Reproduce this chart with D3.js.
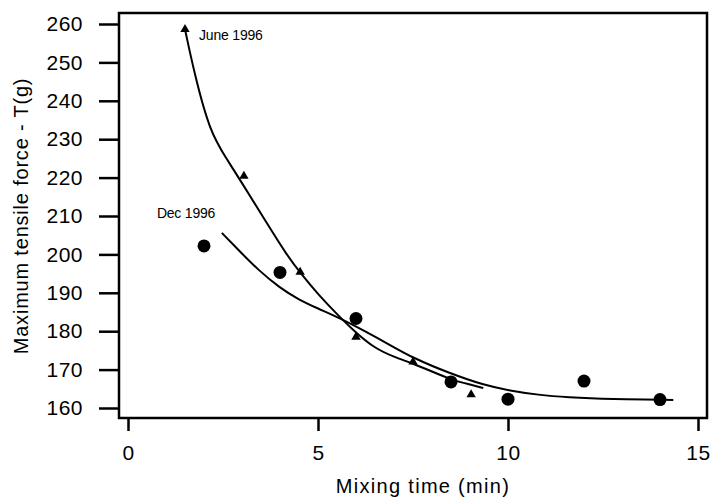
<!DOCTYPE html>
<html>
<head>
<meta charset="utf-8">
<script src="https://cdn.jsdelivr.net/npm/d3@7"></script>
<style>
  body { margin: 0; background: #fff; }
  svg text { font-family: "Liberation Sans", Arial, sans-serif; fill: #000; }
</style>
</head>
<body>
<div id="chart"></div>
<script>
// Dec 1996 measurements (circles)
var decTimes  = [2, 4, 6, 8.5, 10, 12, 14];
var decForces = [202.2, 195.3, 183.3, 166.8, 162.3, 167, 162.2];

// June 1996 measurements (triangles)
var juneTimes  = [1.5, 3.05, 4.53, 6, 7.5, 9.03];
var juneForces = [258.6, 220.4, 195.4, 178.5, 172, 163.5];

// fitted curves
var decCurveX = [2.47, 3.0, 3.4, 4.0, 4.5, 5.0, 5.6, 6.2, 6.9, 7.5, 8.5, 9.35, 10.05, 10.8, 11.55, 12.7, 14.35];
var decCurveY = [205.6, 200.2, 196.2, 191.2, 188.2, 185.9, 183.3, 180.2, 176.4, 173.0, 168.9, 166.0, 164.5, 163.4, 162.8, 162.3, 162.1];
var juneCurveX = [1.5, 1.75, 2.15, 2.6, 3.0, 3.6, 4.2, 4.55, 5.0, 5.6, 6.0, 6.5, 7.0, 7.5, 8.0, 8.5, 9.0, 9.35];
var juneCurveY = [258.6, 247, 232, 224.8, 218.6, 209, 199.5, 195.0, 189.6, 183.4, 179.6, 175.5, 173.3, 171.6, 169.5, 167.4, 166.1, 165.2];

// labels
var seriesNames = ["June 1996", "Dec 1996"];
var labelX = [1.87, 0.76];
var labelY = [255.8, 209.5];

var xTicks = [0, 5, 10, 15];
var yTicks = [160, 170, 180, 190, 200, 210, 220, 230, 240, 250, 260];
var xTitle = "Mixing time (min)";
var yTitle = "Maximum tensile force - T(g)";

var width = 712, height = 499;
var frame = {left: 119, top: 13, right: 707, bottom: 418};

var svg = d3.select("#chart").append("svg")
    .attr("width", width)
    .attr("height", height);

var x = d3.scaleLinear().domain([0, 15]).range([128, 698]);
var y = d3.scaleLinear().domain([160, 260]).range([408, 24]);

// axes
var yAxis = svg.append("g")
    .attr("transform", "translate(" + frame.left + ",0)")
    .call(d3.axisLeft(y).tickValues(yTicks).tickSize(20).tickPadding(16).tickFormat(d3.format("d")));
var xAxis = svg.append("g")
    .attr("transform", "translate(0," + frame.bottom + ")")
    .call(d3.axisBottom(x).tickValues(xTicks).tickSize(13).tickPadding(14).tickFormat(d3.format("d")));
svg.selectAll(".domain").remove();
svg.selectAll(".tick line").attr("stroke", "#000").attr("stroke-width", 2.5);
svg.selectAll(".tick text")
    .attr("font-size", 21)
    .attr("letter-spacing", 0.5)
    .attr("font-family", "Liberation Sans, Arial, sans-serif");

// frame
svg.append("rect")
    .attr("x", frame.left)
    .attr("y", frame.top)
    .attr("width", frame.right - frame.left)
    .attr("height", frame.bottom - frame.top)
    .attr("fill", "none")
    .attr("stroke", "#000")
    .attr("stroke-width", 2.5);

// axis titles
svg.append("text")
    .attr("x", 423)
    .attr("y", 493)
    .attr("text-anchor", "middle")
    .attr("font-size", 20)
    .attr("letter-spacing", 1.3)
    .text(xTitle);
svg.append("text")
    .attr("transform", "translate(28,216) rotate(-90)")
    .attr("text-anchor", "middle")
    .attr("font-size", 20)
    .attr("letter-spacing", 0.8)
    .text(yTitle);

// curves
var line = d3.line()
    .x(function(d) { return x(d[0]); })
    .y(function(d) { return y(d[1]); })
    .curve(d3.curveBasis);

var decCurve = decCurveX.map(function(v, i) { return [v, decCurveY[i]]; });
var juneCurve = juneCurveX.map(function(v, i) { return [v, juneCurveY[i]]; });

svg.append("path")
    .datum(juneCurve)
    .attr("d", line)
    .attr("fill", "none")
    .attr("stroke", "#000")
    .attr("stroke-width", 2);
svg.append("path")
    .datum(decCurve)
    .attr("d", line)
    .attr("fill", "none")
    .attr("stroke", "#000")
    .attr("stroke-width", 2);

// points
var decPts = decTimes.map(function(v, i) { return {t: v, f: decForces[i]}; });
var junePts = juneTimes.map(function(v, i) { return {t: v, f: juneForces[i]}; });

svg.append("g")
    .selectAll("circle")
    .data(decPts)
    .enter()
    .append("circle")
    .attr("cx", function(d) { return x(d.t); })
    .attr("cy", function(d) { return y(d.f); })
    .attr("r", 6.5)
    .attr("fill", "#000");

svg.append("g")
    .selectAll("path")
    .data(junePts)
    .enter()
    .append("path")
    .attr("d", d3.symbol().type(d3.symbolTriangle).size(38))
    .attr("transform", function(d) { return "translate(" + x(d.t) + "," + y(d.f) + ")"; })
    .attr("fill", "#000");

// series labels
svg.append("g")
    .selectAll("text")
    .data(seriesNames)
    .enter()
    .append("text")
    .attr("x", function(d, i) { return x(labelX[i]); })
    .attr("y", function(d, i) { return y(labelY[i]); })
    .attr("font-size", 14)
    .attr("letter-spacing", -0.2)
    .text(function(d) { return d; });
</script>
</body>
</html>
